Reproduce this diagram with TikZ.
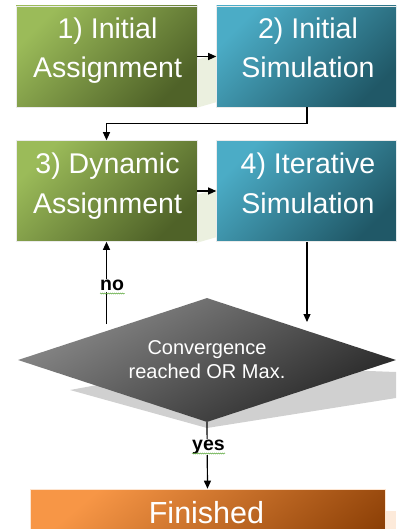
\documentclass[tikz,border=0pt]{standalone}
\usepackage{fontspec}
\setmainfont{Liberation Sans}
\usetikzlibrary{shapes.geometric,arrows.meta,decorations.pathmorphing,calc}
\definecolor{gA}{HTML}{9BBB59}
\definecolor{gB}{HTML}{4F6228}
\definecolor{bA}{HTML}{4BACC6}
\definecolor{bB}{HTML}{205867}
\definecolor{dA}{HTML}{8A8A8A}
\definecolor{dB}{HTML}{262626}
\definecolor{oA}{HTML}{F79646}
\definecolor{oB}{HTML}{8A3E05}
\definecolor{gshadow}{HTML}{EBF0DF}
\definecolor{dshadow}{HTML}{D0D0D0}
\definecolor{oshadow}{HTML}{FDEADA}
\definecolor{squig}{HTML}{6AB04C}
\begin{document}
\begin{tikzpicture}[x=1pt,y=-1pt,
  box/.style={rectangle, inner sep=0pt, minimum width=181pt, minimum height=101pt,
    draw=black!8, line width=0.6pt},
  greenbox/.style={box, top color=gA, bottom color=gB, shading angle=45},
  bluebox/.style={box, top color=bA, bottom color=bB, shading angle=45},
  boxtext/.style={inner sep=0pt, anchor=north, align=center, text=white,
    font=\fontsize{28.5}{39.5}\selectfont},
  decision/.style={diamond, aspect=3.1, inner sep=0pt, minimum width=378pt,
    minimum height=124pt, top color=dA, bottom color=dB, shading angle=30,
    text=white, align=center, font=\fontsize{20}{24}\selectfont},
  finbox/.style={rectangle, inner sep=0pt, minimum width=355pt, minimum height=100pt,
    draw=oA!25, line width=0.6pt, top color=oA, bottom color=oB, shading angle=40},
  conn/.style={line width=1.2pt, -{Triangle[length=8pt,width=7pt]}},
  plain/.style={line width=1.2pt},
  lbl/.style={inner sep=1pt, fill=white, font=\fontsize{19.5}{22}\selectfont\bfseries},
  squiggle/.style={squig, line width=0.6pt, decorate,
    decoration={zigzag, segment length=2pt, amplitude=0.5pt}}
]
\useasboundingbox (0,0) rectangle (396,529);
\clip (0,0) rectangle (396,529);

% shadows
\fill[gshadow] (196,60) -- (217,54) -- (217,102) -- (196,108) -- cycle;
\fill[gshadow] (196,195) -- (217,189) -- (217,237) -- (196,243) -- cycle;
\fill[dshadow] (70,390) -- (207,428) -- (396,398) -- (396,372) -- (207,365) -- cycle;
\fill[oshadow] (385,511) rectangle (396,529);

% boxes
\node[greenbox] (b1) at (106.5,56.5) {};
\node[bluebox]  (b2) at (307,56.5) {};
\node[greenbox] (b3) at (106.5,191) {};
\node[bluebox]  (b4) at (307,191) {};
\node[boxtext] (t1) at ($(b1.north)+(1,11.5)$) {1) Initial\\Assignment};
\node[boxtext] (t2) at ($(b2.north)+(1,11.5)$) {2) Initial\\Simulation};
\node[boxtext] (t3) at ($(b3.north)+(1,12.5)$) {3) Dynamic\\Assignment};
\node[boxtext] (t4) at ($(b4.north)+(1,12.5)$) {4) Iterative\\Simulation};

% decision
\node[decision] (d) at (207,360) {Convergence\\reached OR Max.};

% finished
\node[finbox] (fin) at (207.5,539) {};
\node[inner sep=0pt, anchor=base, text=white, font=\fontsize{30.5}{34}\selectfont]
  (tf) at (206.5,523) {Finished};

% connectors
\draw[conn] (b1) -- (b2);
\draw[conn] (b3) -- (b4);
\draw[conn] (b2.south) -- ++(0,16) -| (b3.north);
\coordinate (dR) at (307,322);
\coordinate (dL) at (106.5,324);
\draw[conn] (b4.south) -- (dR);
\draw[conn] (dL) -- (b3.south);
\draw[conn] (d.south) -- (fin.north);

% labels
\node[lbl, anchor=base] (no) at (112,290.5) {no};
\draw[squiggle] (100,293.5) -- (124.5,293.5);
\node[lbl, anchor=base] (yes) at (208.5,450) {yes};
\draw[squiggle] (192,453.5) -- (225,453.5);
\end{tikzpicture}
\end{document}
